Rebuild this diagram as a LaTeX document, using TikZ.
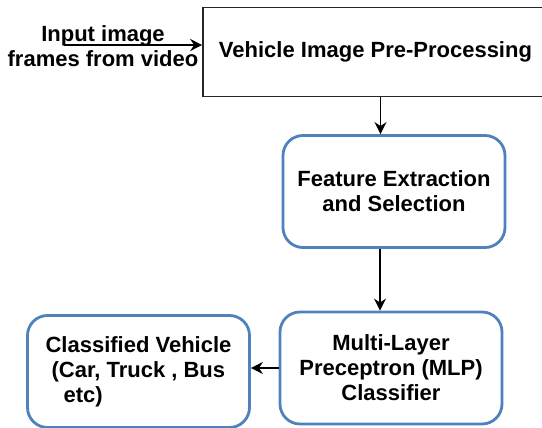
\documentclass[tikz,border=0pt]{standalone}
\usepackage{fontspec}
\setmainfont{Liberation Sans}
\usetikzlibrary{arrows.meta}
\definecolor{boxblue}{RGB}{79,129,189}
\tikzset{
  boxfont/.style={font=\fontsize{11}{12.5}\selectfont\bfseries},
  plainbox/.style={boxfont,draw=black!85,line width=0.8pt,minimum width=172.5pt,minimum height=44.5pt},
  roundbox/.style={boxfont,draw=boxblue,line width=1.4pt,rounded corners=10pt,align=center,minimum width=111pt,minimum height=56pt},
}
\begin{document}
\begin{tikzpicture}[>={Stealth[length=6pt,width=6pt]},line width=0.8pt,x=0.5pt,y=-0.5pt]
		\useasboundingbox (0,0) rectangle (542,428);
		\node[plainbox] (pre) at (375.5,52) {Vehicle Image Pre-Processing};
		\node[roundbox] (feat) at (394,191.5) {Feature Extraction\\and Selection};
		\node[roundbox] (mlp) at (391,368) {Multi-Layer\\Preceptron (MLP)\\Classifier};
		\node[roundbox,align=left] (cls) at (138.5,371.5) {Classified Vehicle\\\hspace{3pt}(Car, Truck , Bus\\\hspace{9pt}etc)};
		\node[boxfont,align=center] (inp) at (103,46) {Input image\\frames from video};
		\coordinate (start) at (64,45);
		\draw[->] (start) -- (start -| pre.west);
		\draw[->] ([xshift=2.5pt]pre.south) -- ([xshift=2.5pt]pre.south |- feat.north);
		\draw[->] ([xshift=-7pt]feat.south) -- ([xshift=-7pt]feat.south |- mlp.north);
		\draw[->] (mlp.west) -- (mlp.west -| cls.east);
		\end{tikzpicture}
\end{document}
